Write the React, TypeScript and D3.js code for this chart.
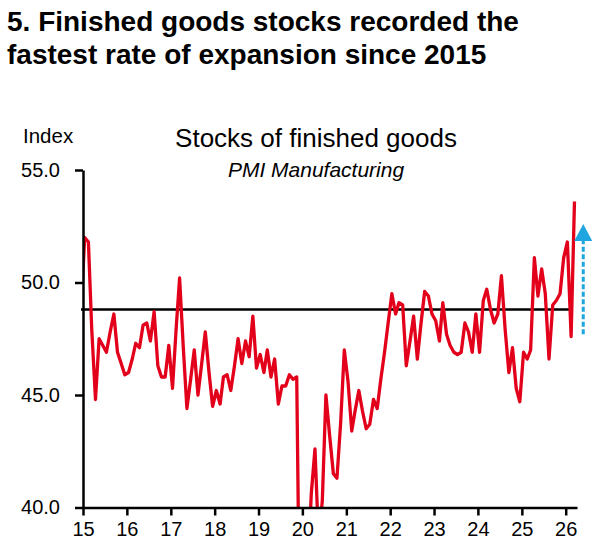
import React, { useEffect, useRef } from "react";
import * as d3 from "d3";

// monthly readings, Dec 2014 .. Mar 2026 (first point sits left of the axis and is clipped)
const firstMonth = new Date(2014, 11, 15);
const stocks = [
  48.7,
  52.0, 51.8, 47.9, 44.8, 47.5, 47.2, 46.9, 47.8, 48.6, 46.9, 46.4, 45.9, // 2015
  46.0, 46.6, 47.3, 47.1, 48.1, 48.2, 47.4, 48.7, 46.3, 45.8, 45.8, 47.2, // 2016
  45.3, 48.0, 50.2, 47.1, 44.4, 45.7, 47.0, 45.0, 46.4, 47.8, 46.0, 44.5, // 2017
  45.2, 44.6, 45.8, 45.9, 45.2, 46.3, 47.5, 46.4, 47.4, 46.7, 48.5, 46.2, // 2018
  46.8, 46.0, 47.0, 45.8, 46.6, 44.6, 45.4, 45.4, 45.9, 45.7, 45.8, 32.0, // 2019
  30.0, 37.0, 40.6, 42.6, 38.5, 40.3, 45.0, 43.2, 41.5, 41.3, 43.8, 47.0, // 2020
  45.6, 43.4, 44.3, 45.2, 44.3, 43.5, 43.7, 44.8, 44.4, 45.7, 46.9, 48.2, // 2021
  49.5, 48.6, 49.1, 49.0, 46.3, 47.4, 48.5, 46.6, 48.2, 49.6, 49.4, 48.6, // 2022
  48.3, 47.4, 49.1, 47.7, 47.2, 46.9, 46.8, 46.9, 48.2, 47.8, 46.9, 48.6, // 2023
  46.9, 49.2, 49.7, 48.8, 48.2, 48.6, 50.3, 47.9, 46.0, 47.1, 45.3, 44.7, // 2024
  46.9, 46.6, 47.0, 51.1, 49.4, 50.6, 49.5, 46.6, 49.0, 49.2, 49.5, 51.1, // 2025
  51.8, 47.6, 53.6, // 2026
];

const averageLevel = 48.8;
const averageSpan = [new Date(2015, 0, 1), new Date(2026, 2, 1)];
const arrowDate = new Date(2026, 4, 27);
const arrowFrom = 47.7;
const arrowTo = 52.6;

const yTicks = [40, 45, 50, 55];
const xStart = new Date(2015, 0, 1);
const xEnd = new Date(2026, 3, 5);

const titleLines = [
  "5. Finished goods stocks recorded the",
  "fastest rate of expansion since 2015",
];
const chartTitle = "Stocks of finished goods";
const chartSubtitle = "PMI Manufacturing";
const yUnit = "Index";

const RED = "#E2001A";
const BLUE = "#1FA5E0";
const FONT = "'Liberation Sans', Arial, sans-serif";

export default function App() {
  const svgRef = useRef<SVGSVGElement>(null);

  const width = 600;
  const height = 552;
  const margin = { top: 170, right: 23, bottom: 44.5, left: 83 };

  useEffect(() => {
    if (!svgRef.current) return;
    const svg = d3.select(svgRef.current);
    svg.selectAll("*").remove();

    const points = stocks.map((v, i) => ({
      date: d3.timeMonth.offset(firstMonth, i),
      value: v,
    }));

    const x = d3.scaleTime().domain([xStart, xEnd]).range([margin.left, width - margin.right]);
    const y = d3.scaleLinear().domain([40, 55]).range([height - margin.bottom, margin.top]);

    // titles
    svg.append("g")
      .selectAll("text")
      .data(titleLines)
      .enter().append("text")
      .attr("x", 7)
      .attr("y", (_d, i) => 31 + i * 32.5)
      .attr("font-family", FONT)
      .attr("font-weight", "bold")
      .attr("font-size", 28)
      .attr("fill", "#000")
      .text(d => d);

    svg.append("text")
      .attr("x", 316).attr("y", 147)
      .attr("text-anchor", "middle")
      .attr("font-family", FONT).attr("font-size", 26)
      .text(chartTitle);

    svg.append("text")
      .attr("x", 316).attr("y", 177)
      .attr("text-anchor", "middle")
      .attr("font-family", FONT).attr("font-size", 21).attr("font-style", "italic")
      .text(chartSubtitle);

    svg.append("text")
      .attr("x", 23).attr("y", 143)
      .attr("font-family", FONT).attr("font-size", 20.5)
      .text(yUnit);

    // clip to plot area
    svg.append("defs").append("clipPath").attr("id", "plot-clip")
      .append("rect")
      .attr("x", x(xStart)).attr("y", y(55))
      .attr("width", x(xEnd) - x(xStart)).attr("height", y(40) - y(55));

    // average line
    svg.append("line")
      .attr("x1", x(averageSpan[0]) - 2).attr("x2", x(averageSpan[1]))
      .attr("y1", y(averageLevel)).attr("y2", y(averageLevel))
      .attr("stroke", "#000").attr("stroke-width", 2.5);

    // series
    const line = d3.line<{ date: Date; value: number }>()
      .x(d => x(d.date))
      .y(d => y(d.value));

    svg.append("path")
      .datum(points)
      .attr("clip-path", "url(#plot-clip)")
      .attr("fill", "none")
      .attr("stroke", RED)
      .attr("stroke-width", 3.3)
      .attr("stroke-linejoin", "round")
      .attr("d", line);

    // axes
    const xAxis = svg.append("g")
      .attr("transform", `translate(0,${y(40)})`)
      .call(d3.axisBottom(x)
        .ticks(d3.timeYear.every(1))
        .tickFormat(d3.timeFormat("%y") as any)
        .tickSize(8)
        .tickSizeOuter(0)
        .tickPadding(6));
    xAxis.select(".domain").attr("stroke", "#000").attr("stroke-width", 2.5);
    xAxis.selectAll(".tick line").attr("stroke", "#000").attr("stroke-width", 2.5);
    xAxis.selectAll(".tick text")
      .attr("font-family", FONT).attr("font-size", 20).attr("fill", "#000");

    const yAxis = svg.append("g")
      .attr("transform", `translate(${x(xStart)},0)`)
      .call(d3.axisLeft(y)
        .tickValues(yTicks)
        .tickFormat(d3.format(".1f"))
        .tickSize(8)
        .tickSizeOuter(0)
        .tickPadding(15));
    yAxis.select(".domain").attr("stroke", "#000").attr("stroke-width", 2.5);
    yAxis.selectAll(".tick line").attr("stroke", "#000").attr("stroke-width", 2.5);
    yAxis.selectAll(".tick text")
      .attr("font-family", FONT).attr("font-size", 20).attr("fill", "#000");

    // dashed arrow
    const ax = x(arrowDate);
    const tipY = y(arrowTo);
    const headH = 17;
    const headW = 18;
    svg.append("line")
      .attr("x1", ax).attr("x2", ax)
      .attr("y1", y(arrowFrom)).attr("y2", tipY + headH)
      .attr("stroke", BLUE).attr("stroke-width", 3)
      .attr("stroke-dasharray", "5,2.5");
    svg.append("path")
      .attr("d", `M${ax},${tipY}L${ax + headW / 2},${tipY + headH}L${ax - headW / 2},${tipY + headH}Z`)
      .attr("fill", BLUE);
  }, []);

  return (
    <div style={{ position: "absolute", left: 0, top: 0, width, height, background: "#fff" }}>
      <svg ref={svgRef} width={width} height={height} viewBox={`0 0 ${width} ${height}`} />
    </div>
  );
}
